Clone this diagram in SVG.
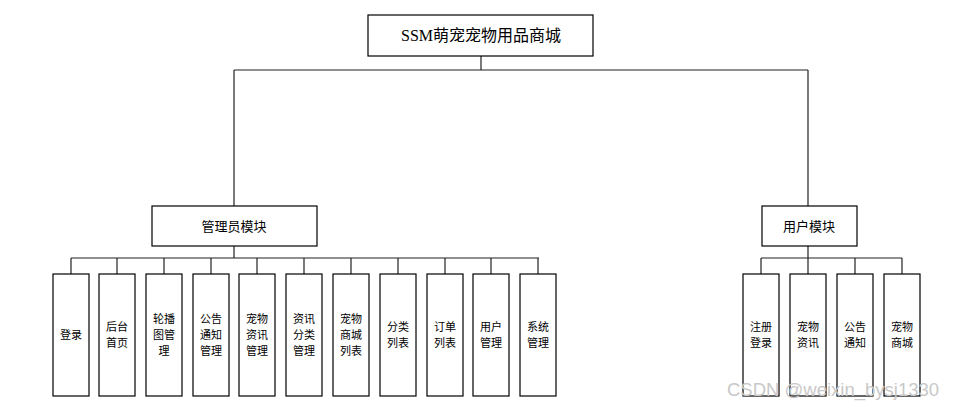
<svg xmlns="http://www.w3.org/2000/svg" width="957" height="410" viewBox="0 0 957 410">
<style>
.box{fill:#fff;stroke:#000;stroke-width:1.2}
.ln{fill:none;stroke:#222;stroke-width:1.2}
text{font-family:"Noto Sans CJK SC","Liberation Sans",sans-serif;fill:#000;text-anchor:middle}
.t{font-size:11px}
.m{font-size:13px}
.title{font-size:16px;font-family:"Liberation Serif","Noto Sans CJK SC",serif}
.wm{font-size:18.5px;fill:#c8c8c8;font-family:"Liberation Sans",sans-serif;text-anchor:start}
</style>
<rect width="957" height="410" fill="#fff"/>
<g id="connectors">
<path class="ln" d="M481,56V70M234,70H808M234,70V206M808,70V206"/>
<path class="ln" d="M234,246V258M71,258H539M71,258V274M117,258V274M164,258V274M211,258V274M257,258V274M304,258V274M351,258V274M398,258V274M445,258V274M491,258V274M538,258V274"/>
<path class="ln" d="M808,246V258M761,258H902M761,258V274M808,258V274M855,258V274M902,258V274"/>
</g>
<g id="root"><rect class="box" x="368" y="15" width="225" height="41"/><text class="title" x="481" y="41">SSM萌宠宠物用品商城</text></g>
<g id="admin"><rect class="box" x="152" y="206" width="165" height="40"/><text class="m" x="234" y="231">管理员模块</text></g>
<g id="user"><rect class="box" x="762" y="206" width="95" height="40"/><text class="m" x="809" y="231">用户模块</text></g>
<g id="a1"><rect class="box" x="53" y="274" width="36" height="122"/><text class="t" x="71" y="339">登录</text></g>
<g id="a2"><rect class="box" x="99" y="274" width="36" height="122"/><text class="t" x="117" y="331">后台</text><text class="t" x="117" y="347">首页</text></g>
<g id="a3"><rect class="box" x="146" y="274" width="36" height="122"/><text class="t" x="164" y="323">轮播</text><text class="t" x="164" y="339">图管</text><text class="t" x="164" y="355">理</text></g>
<g id="a4"><rect class="box" x="193" y="274" width="36" height="122"/><text class="t" x="211" y="323">公告</text><text class="t" x="211" y="339">通知</text><text class="t" x="211" y="355">管理</text></g>
<g id="a5"><rect class="box" x="239" y="274" width="36" height="122"/><text class="t" x="257" y="323">宠物</text><text class="t" x="257" y="339">资讯</text><text class="t" x="257" y="355">管理</text></g>
<g id="a6"><rect class="box" x="286" y="274" width="36" height="122"/><text class="t" x="304" y="323">资讯</text><text class="t" x="304" y="339">分类</text><text class="t" x="304" y="355">管理</text></g>
<g id="a7"><rect class="box" x="333" y="274" width="36" height="122"/><text class="t" x="351" y="323">宠物</text><text class="t" x="351" y="339">商城</text><text class="t" x="351" y="355">列表</text></g>
<g id="a8"><rect class="box" x="380" y="274" width="36" height="122"/><text class="t" x="398" y="331">分类</text><text class="t" x="398" y="347">列表</text></g>
<g id="a9"><rect class="box" x="427" y="274" width="36" height="122"/><text class="t" x="445" y="331">订单</text><text class="t" x="445" y="347">列表</text></g>
<g id="a10"><rect class="box" x="473" y="274" width="36" height="122"/><text class="t" x="491" y="331">用户</text><text class="t" x="491" y="347">管理</text></g>
<g id="a11"><rect class="box" x="520" y="274" width="36" height="122"/><text class="t" x="538" y="331">系统</text><text class="t" x="538" y="347">管理</text></g>
<g id="u1"><rect class="box" x="743" y="274" width="36" height="122"/><text class="t" x="761" y="331">注册</text><text class="t" x="761" y="347">登录</text></g>
<g id="u2"><rect class="box" x="790" y="274" width="36" height="122"/><text class="t" x="808" y="331">宠物</text><text class="t" x="808" y="347">资讯</text></g>
<g id="u3"><rect class="box" x="837" y="274" width="36" height="122"/><text class="t" x="855" y="331">公告</text><text class="t" x="855" y="347">通知</text></g>
<g id="u4"><rect class="box" x="884" y="274" width="36" height="122"/><text class="t" x="902" y="331">宠物</text><text class="t" x="902" y="347">商城</text></g>
<text class="wm" x="727" y="396">CSDN @weixin_bysj1330</text>
</svg>
